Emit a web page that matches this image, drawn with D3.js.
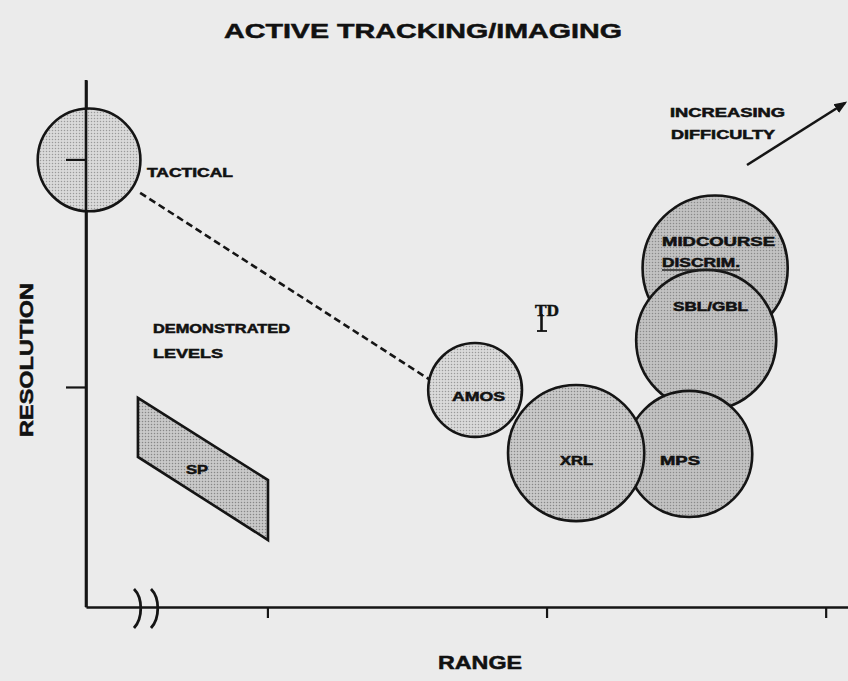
<!DOCTYPE html>
<html>
<head>
<meta charset="utf-8">
<script src="https://cdn.jsdelivr.net/npm/d3@7/dist/d3.min.js"></script>
<style>
  html, body { margin: 0; padding: 0; background: #ebebeb; }
  svg { display: block; }
  text { font-family: "Liberation Sans", Arial, sans-serif; font-weight: bold; fill: #111; stroke: #111; stroke-width: 0.5; }
</style>
</head>
<body>
<svg id="chart" width="848" height="681"></svg>
<script>
// ---- data ----
const xTicks = [1, 2, 3];
const yTicks = [1, 2];
const circleNames = ["MIDCOURSE DISCRIM.", "SBL/GBL", "MPS", "TACTICAL", "AMOS", "XRL"];
const circleX     = [2.604, 2.572, 2.511, 0.361, 1.744, 2.106];
const circleY     = [1.524, 1.207, 0.705, 2.000, 0.987, 0.709];
const circleR     = [0.260, 0.251, 0.226, 0.184, 0.168, 0.244];
const circleTone  = ["dark", "dark", "dark", "light", "light", "mid"];
const spX = [0.536, 1.002, 1.002, 0.536];
const spY = [0.952, 0.590, 0.326, 0.692];
const trendX = [0.544, 1.583];
const trendY = [1.855, 1.031];

// ---- layout ----
const W = 848, H = 681;
const svg = d3.select("#chart");
const x = d3.scaleLinear().domain([0.35, 3.08]).range([86, 848]);
const y = d3.scaleLinear().domain([0.031, 2.352]).range([607, 80]);
const rPx = v => v * (x(1) - x(0));

svg.append("rect").attr("width", W).attr("height", H).attr("fill", "#ebebeb");

const defs = svg.append("defs");
function pattern(id, base, dot) {
  const p = defs.append("pattern").attr("id", id).attr("patternUnits", "userSpaceOnUse")
    .attr("width", 3).attr("height", 3);
  p.append("rect").attr("width", 3).attr("height", 3).attr("fill", base);
  p.append("circle").attr("cx", 1.5).attr("cy", 1.5).attr("r", 0.75).attr("fill", dot);
}
pattern("light", "#dadada", "#9a9a9a");
pattern("mid", "#c9c9c9", "#878787");
pattern("dark", "#c2c2c2", "#8a8a8a");

// axes
const xAxis = svg.append("g").attr("transform", `translate(0,${y.range()[0]})`)
  .call(d3.axisBottom(x).tickValues(xTicks).tickSize(11).tickSizeOuter(0).tickFormat(""));
const yAxis = svg.append("g").attr("transform", `translate(${x.range()[0]},0)`)
  .call(d3.axisLeft(y).tickValues(yTicks).tickSize(20).tickSizeOuter(0).tickFormat(""));
[xAxis, yAxis].forEach(g => {
  g.select(".domain").attr("stroke", "#151515").attr("stroke-width", 2.6);
  g.selectAll(".tick line").attr("stroke", "#151515").attr("stroke-width", 2.2);
});

// axis break marks
[134, 151].forEach(bx => {
  svg.append("path")
    .attr("d", `M${bx},589 C${bx + 9},598 ${bx + 9},618 ${bx},628`)
    .attr("fill", "none").attr("stroke", "#151515").attr("stroke-width", 2.8);
});

// SP parallelogram
svg.append("path")
  .attr("d", d3.line()(spX.map((v, i) => [x(v), y(spY[i])])) + "Z")
  .attr("fill", "url(#mid)").attr("stroke", "#151515").attr("stroke-width", 2.6)
  .attr("stroke-linejoin", "miter");

// dashed trend line
svg.append("line")
  .attr("x1", x(trendX[0])).attr("y1", y(trendY[0]))
  .attr("x2", x(trendX[1])).attr("y2", y(trendY[1]))
  .attr("stroke", "#151515").attr("stroke-width", 2.6).attr("stroke-dasharray", "7,4");

// circles
const circles = circleNames.map((n, i) => ({ name: n, cx: circleX[i], cy: circleY[i], r: circleR[i], tone: circleTone[i] }));
svg.append("g").selectAll("circle").data(circles).join("circle")
  .attr("cx", d => x(d.cx)).attr("cy", d => y(d.cy)).attr("r", d => rPx(d.r))
  .attr("fill", d => `url(#${d.tone})`)
  .attr("stroke", "#151515").attr("stroke-width", 2.6);

// redraw y-axis over tactical circle
svg.append("line").attr("x1", x.range()[0]).attr("x2", x.range()[0])
  .attr("y1", y.range()[1]).attr("y2", y.range()[0])
  .attr("stroke", "#151515").attr("stroke-width", 2.6);
svg.append("line").attr("x1", x.range()[0] - 20).attr("x2", x.range()[0])
  .attr("y1", y(2)).attr("y2", y(2))
  .attr("stroke", "#151515").attr("stroke-width", 2.2);

// text helper
function label(t, px, py, size, len, anchor) {
  const el = svg.append("text").attr("x", px).attr("y", py).attr("font-size", size).text(t);
  if (len) el.attr("textLength", len).attr("lengthAdjust", "spacingAndGlyphs");
  if (anchor) el.attr("text-anchor", anchor);
  return el;
}

label("ACTIVE TRACKING/IMAGING", 224, 38, 21, 398);
label("RANGE", 438, 669, 18, 84);
svg.append("text").attr("transform", "translate(33,437) rotate(-90)")
  .attr("font-size", 18).attr("textLength", 154).attr("lengthAdjust", "spacingAndGlyphs")
  .text("RESOLUTION");

label("TACTICAL", 147, 177, 12, 86);
label("INCREASING", 670, 117, 12, 115);
label("DIFFICULTY", 671, 139, 12, 104);
label("MIDCOURSE", 662, 246, 12, 113);
label("DISCRIM.", 662, 267, 12, 78);
svg.append("line").attr("x1", 662).attr("x2", 740).attr("y1", 270).attr("y2", 270)
  .attr("stroke", "#222").attr("stroke-width", 1.6);
label("SBL/GBL", 673, 311, 12, 75);
label("AMOS", 452, 401, 12, 53);
label("XRL", 560, 465, 12, 33);
label("MPS", 660, 465, 12, 40);
label("DEMONSTRATED", 153, 333, 12, 137);
label("LEVELS", 153, 358, 12, 70);
label("SP", 186, 474, 12, 22);

// TD marker
svg.append("text").attr("x", 535).attr("y", 316).attr("font-size", 16)
  .style("font-family", "'Liberation Serif', serif").attr("textLength", 24)
  .attr("lengthAdjust", "spacingAndGlyphs").text("TD");
svg.append("line").attr("x1", 541.5).attr("x2", 541.5).attr("y1", 314).attr("y2", 331)
  .attr("stroke", "#111").attr("stroke-width", 2.6);
svg.append("line").attr("x1", 537).attr("x2", 547).attr("y1", 331).attr("y2", 331)
  .attr("stroke", "#111").attr("stroke-width", 1.8);

// increasing difficulty arrow
defs.append("marker").attr("id", "arrow").attr("viewBox", "0 0 10 10")
  .attr("refX", 8).attr("refY", 5).attr("markerWidth", 5).attr("markerHeight", 5)
  .attr("orient", "auto").append("path").attr("d", "M0,1 L10,5 L0,9 Z").attr("fill", "#151515");
svg.append("line").attr("x1", 747).attr("y1", 165).attr("x2", 845).attr("y2", 103)
  .attr("stroke", "#151515").attr("stroke-width", 2.6).attr("marker-end", "url(#arrow)");
</script>
</body>
</html>
